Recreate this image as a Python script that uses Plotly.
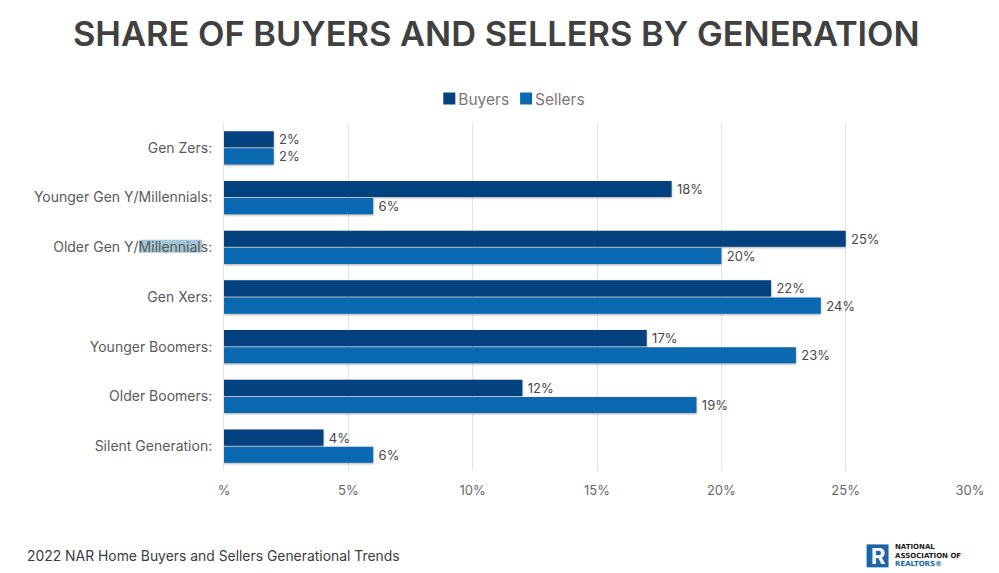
import plotly.graph_objects as go

categories = ["Gen Zers:", "Younger Gen Y/Millennials:", "Older Gen Y/Millennials:", "Gen Xers:",
              "Younger Boomers:", "Older Boomers:", "Silent Generation:"]
buyers = [2, 18, 25, 22, 17, 12, 4]
sellers = [2, 6, 20, 24, 23, 19, 6]
tick_vals = [0, 5, 10, 15, 20, 25, 30]
tick_text = ["%", "5%", "10%", "15%", "20%", "25%", "30%"]

FONT = "Inter, 'Open Sans', sans-serif"
LOGO_FONT = "'DejaVu Sans', sans-serif"
W, H = 999, 573
L, R, T, B = 224, 28.5, 123, 101.5
def px(x): return (x - L) / (W - L - R)
def py(y): return (H - B - y) / (H - T - B)

fig = go.Figure()
for name, vals, col in [("Buyers", buyers, "#04427f"), ("Sellers", sellers, "#0a69b0")]:
    fig.add_trace(go.Bar(
        y=categories, x=vals, name=name, orientation="h", marker=dict(color=col, line_width=0),
        text=[f"\u2009{v}%" for v in vals], textposition="outside", cliponaxis=False,
        textfont=dict(size=13, color="#484848", family=FONT), hoverinfo="skip"))

shapes = [
    dict(type="rect", xref="paper", yref="paper", x0=px(139), x1=px(202), y0=py(253), y1=py(240),
         fillcolor="#a3c6d6", line_width=0, layer="below"),
    dict(type="rect", xref="paper", yref="paper", x0=px(867), x1=px(889), y0=py(568), y1=py(545),
         fillcolor="#1c66a6", line_width=0),
]
annots = [
    dict(text="SHARE OF BUYERS AND SELLERS BY GENERATION", x=px(496.5), y=py(33), size=34.4, color="#404040", w=600, f=FONT),
    dict(text="2022 NAR Home Buyers and Sellers Generational Trends", x=px(213), y=py(557), size=13.9, color="#3c3c3c", w=400, f=FONT),
    dict(text="R", x=px(878), y=py(557), size=22, color="white", w=700, f=FONT),
    dict(text="NATIONAL", x=px(893), y=py(548), size=7, color="#1a1a1a", w=700, a="left", f=LOGO_FONT),
    dict(text="ASSOCIATION OF", x=px(893), y=py(556.4), size=7, color="#1a1a1a", w=700, a="left", f=LOGO_FONT),
    dict(text="REALTORS®", x=px(893), y=py(564.8), size=7, color="#1c66a6", w=700, a="left", f=LOGO_FONT),
]
annotations = [dict(text=a["text"], x=a["x"], y=a["y"], xref="paper", yref="paper",
                    xanchor=a.get("a", "center"), yanchor="middle", showarrow=False,
                    font=dict(size=a["size"], color=a["color"], family=a["f"], weight=a["w"]))
               for a in annots]

fig.update_layout(
    width=W, height=H, paper_bgcolor="white", plot_bgcolor="white",
    margin=dict(l=L, r=R, t=T, b=B, autoexpand=False),
    font=dict(family=FONT, color="#5f5f5f"),
    barmode="group", bargap=0.31, bargroupgap=0.06,
    showlegend=True,
    legend=dict(orientation="h", x=px(514), xanchor="center", y=py(99), yanchor="middle",
                font=dict(size=15.5, color="#777777"), itemwidth=30, tracegroupgap=0, traceorder="normal"),
    xaxis=dict(range=[0, 30], tickvals=tick_vals, ticktext=tick_text, showgrid=True, gridcolor="#e3e3e3",
               gridwidth=1, zeroline=False, showline=False, ticks="outside", ticklen=7,
               tickcolor="rgba(0,0,0,0)", tickfont=dict(size=13, color="#666666")),
    yaxis=dict(autorange="reversed", ticks="outside", ticklen=8, tickcolor="rgba(0,0,0,0)",
               showline=True, linecolor="#e3e3e3",
               tickfont=dict(size=14, color="#5a5a5a")),
    shapes=shapes, annotations=annotations,
)
post = """
document.body.style.margin='0';
document.querySelectorAll('.bars .point path').forEach(function(p){
  p.style.filter='drop-shadow(0px 1.5px 1px rgba(0,0,0,0.35))';
});
document.querySelectorAll('.legend .traces').forEach(function(t, i){
  if (i === 1) {
    var m = /translate\\(([-\\d.]+),\\s*([-\\d.]+)\\)/.exec(t.getAttribute('transform'));
    if (m) t.setAttribute('transform', 'translate(' + (parseFloat(m[1]) - 19) + ',' + m[2] + ')');
  }
  var s = t.querySelector('.legendsymbols');
  if (s) s.setAttribute('transform', 'translate(11,0)');
});
"""
fig.write_html("out.html", post_script=post, config={"displayModeBar": False})
